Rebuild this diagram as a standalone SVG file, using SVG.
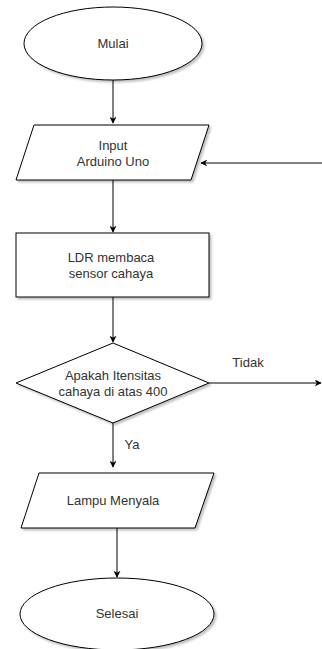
<svg xmlns="http://www.w3.org/2000/svg" width="322" height="649" viewBox="0 0 322 649">
<defs>
<filter id="sh" x="-10%" y="-10%" width="130%" height="130%">
<feGaussianBlur in="SourceAlpha" stdDeviation="1"/>
<feOffset dx="2" dy="2" result="b"/>
<feFlood flood-color="#000" flood-opacity="0.25"/>
<feComposite in2="b" operator="in"/>
<feMerge><feMergeNode/><feMergeNode in="SourceGraphic"/></feMerge>
</filter>
<marker id="ar" viewBox="0 0 10 10" refX="9" refY="5" markerWidth="7" markerHeight="7" markerUnits="userSpaceOnUse" orient="auto">
<path d="M0,0 L10,5 L0,10 L3,5 Z" fill="#000"/>
</marker>
</defs>
<style>
.n{fill:#fff;stroke:#000;stroke-width:1;filter:url(#sh)}
.t{font-family:"Liberation Sans",Arial,sans-serif;font-size:13px;fill:#333;text-anchor:middle}
.c{fill:none;stroke:#000;stroke-width:1}
</style>
<rect width="322" height="649" fill="#fff"/>
<g id="connectors">
<path class="c" d="M113,80 V123" marker-end="url(#ar)"/>
<path class="c" d="M322,163 H201" marker-end="url(#ar)"/>
<path class="c" d="M113,180 V232" marker-end="url(#ar)"/>
<path class="c" d="M113,297 V342" marker-end="url(#ar)"/>
<path class="c" d="M209,383 H321" marker-end="url(#ar)"/>
<path class="c" d="M113,423 V467" marker-end="url(#ar)"/>
<path class="c" d="M117,528 V577" marker-end="url(#ar)"/>
<text class="t" x="248" y="367">Tidak</text>
<text class="t" x="132" y="449">Ya</text>
</g>
<g id="mulai">
<ellipse class="n" cx="113" cy="43.5" rx="89" ry="36.5"/>
<text class="t" x="113" y="48">Mulai</text>
</g>
<g id="input">
<polygon class="n" points="34,125 209,125 191,180 16,180"/>
<text class="t" x="113" y="150">Input</text>
<text class="t" x="113" y="166">Arduino Uno</text>
</g>
<g id="ldr">
<rect class="n" x="16" y="233" width="193" height="64"/>
<text class="t" x="111" y="262">LDR membaca</text>
<text class="t" x="111" y="278">sensor cahaya</text>
</g>
<g id="decision">
<polygon class="n" points="113,343 209,383 113,423 16,383"/>
<text class="t" x="113" y="380">Apakah Itensitas</text>
<text class="t" x="113" y="396">cahaya di atas 400</text>
</g>
<g id="lampu">
<polygon class="n" points="39,473 214,473 195,528 21,528"/>
<text class="t" x="113" y="505">Lampu Menyala</text>
</g>
<g id="selesai">
<ellipse class="n" cx="117" cy="614" rx="97" ry="36"/>
<text class="t" x="117" y="618">Selesai</text>
</g>
</svg>
